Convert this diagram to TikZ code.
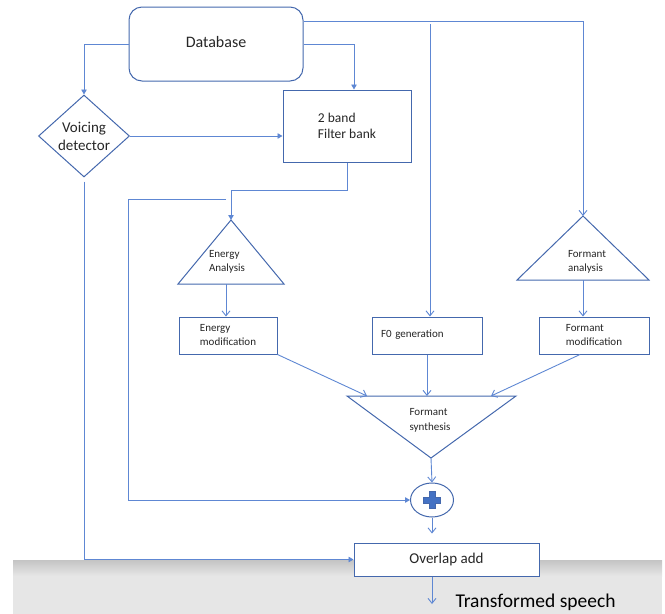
\documentclass[tikz,border=0pt]{standalone}
\usepackage{fontspec}
\setmainfont{Carlito}
\usetikzlibrary{shapes.geometric,arrows.meta}
\definecolor{wireblue}{HTML}{5E87D3}
\definecolor{edgeblue}{HTML}{4468AD}
\definecolor{plusblue}{HTML}{4472C4}
\definecolor{inkgray}{HTML}{262626}
\definecolor{bandtop}{HTML}{C4C4C4}
\definecolor{bandbase}{HTML}{E6E6E6}

\begin{document}
\begin{tikzpicture}[
    x=1pt, y=-1pt,
    every node/.style={text=inkgray},
    block/.style={rectangle, draw=edgeblue, line width=1pt, fill=white, minimum height=37pt, align=left, font=\fontsize{11}{14}\selectfont},
    tritext/.style={align=left, font=\fontsize{11}{14}\selectfont},
    triline/.style={draw=edgeblue, line width=1pt, line join=miter},
    feed/.style={draw=wireblue, line width=0.9pt, -{Triangle[length=5pt,width=5.5pt]}},
    link/.style={draw=wireblue, line width=0.9pt, -{Straight Barb[length=5pt,width=8pt]}}
]
\useasboundingbox (0,0) rectangle (665,614);

% Grey band
\shade[top color=bandtop, bottom color=bandbase] (13,560) rectangle (662,576);
\fill[bandbase] (13,575.5) rectangle (662,614);

% Database
\node[rectangle, draw=edgeblue, line width=1pt, rounded corners=13pt, minimum width=174pt, minimum height=74pt, font=\fontsize{16}{19}\selectfont] (db) at (216,44) {\raisebox{4pt}{Database}};

% Voicing detector
\node[diamond, draw=edgeblue, line width=1pt, inner sep=0pt, aspect=1, minimum width=91pt, minimum height=82pt, align=center, font=\fontsize{15}{18}\selectfont] (vd) at (84,136) {Voicing\\detector};

% Filter bank
\node[block, minimum width=128pt, minimum height=72pt, font=\fontsize{13.5}{16}\selectfont] (fb) at (347,126) {2 band\\Filter bank};

% Energy analysis
\coordinate (ea top) at (231,220);
\coordinate (ea base) at (226,284);
\draw[triline] (ea top) -- (284,284) -- (178,284) -- cycle;
\node[tritext] (ea) at (227,262) {Energy\\Analysis};

% Formant analysis
\coordinate (fa top) at (583,216);
\coordinate (fa base) at (583,280);
\draw[triline] (fa top) -- (649,280) -- (517,280) -- cycle;
\node[tritext] (fa) at (587,262) {Formant\\analysis};

% Modification and F0 blocks
\node[block, minimum width=98pt] (em) at (228,335.5) {Energy\\modification};
\node[block, minimum width=110pt, text width=92pt, inner xsep=9pt] (f0) at (427,335.5) {\raisebox{4pt}{F0 generation}};
\node[block, minimum width=110pt] (fm) at (594,335.5) {Formant\\modification};

% Formant synthesis
\coordinate (fs apex) at (431,458);
\coordinate (fs left in) at (367,396);
\coordinate (fs mid in) at (427,396);
\coordinate (fs right in) at (491,396);
\draw[triline] (347,396) -- (516,396) -- (fs apex) -- cycle;
\node[tritext, font=\fontsize{11}{15}\selectfont] (fs) at (430,420) {Formant\\synthesis};

% Summation
\node[ellipse, draw=edgeblue, line width=1pt, fill=white, minimum width=43pt, minimum height=34pt] (sum) at (432,500) {};
\draw[shift={(sum.center)}, fill=plusblue, draw=edgeblue, line width=0.6pt]
    (-3,-8.5) -- (3,-8.5) -- (3,-3) -- (8.5,-3) -- (8.5,3) -- (3,3) -- (3,8.5)
    -- (-3,8.5) -- (-3,3) -- (-8.5,3) -- (-8.5,-3) -- (-3,-3) -- cycle;

% Overlap add
\node[block, minimum width=185pt, minimum height=33pt, font=\fontsize{15}{18}\selectfont] (ov) at (446.5,559.5) {Overlap add};

% Output
\coordinate (out) at (432,604);
\node[anchor=base west, font=\fontsize{19.5}{23}\selectfont, text=black] (ts) at (452,607) {Transformed speech};

% Connectors
\draw[feed] (db.west) -| (vd.north);
\draw[feed] (db.east) -| ([xshift=7pt]fb.north);
\draw[link] ([yshift=23pt]db.east) -| (fa top);
\coordinate (f0 in) at (430,24);
\draw[link] (f0 in) -- (f0 in |- f0.north);
\draw[feed] (vd.east) -- (vd.east -| fb.west);
\draw[feed] (fb.south) -- ++(0,28) -| (ea top);
\coordinate (band tap) at (226,199);
\draw[feed] (band tap) -- (128,199) |- (sum.west);
\draw[feed, shorten <=4pt] (vd.south) |- (ov.west);
\draw[link] (ea base) -- (ea base |- em.north);
\draw[link] (fa base) -- (fa base |- fm.north);
\draw[link] (em.south east) -- (fs left in);
\draw[link] (f0.south) -- (fs mid in);
\draw[link] ([xshift=-14pt]fm.south) -- (fs right in);
\draw[link] (fs apex) -- (sum.north);
\draw[link, shorten >=9pt] (sum.south) -- (sum.south |- ov.north);
\draw[link] (out |- ov.south) -- (out);

\end{tikzpicture}
\end{document}
